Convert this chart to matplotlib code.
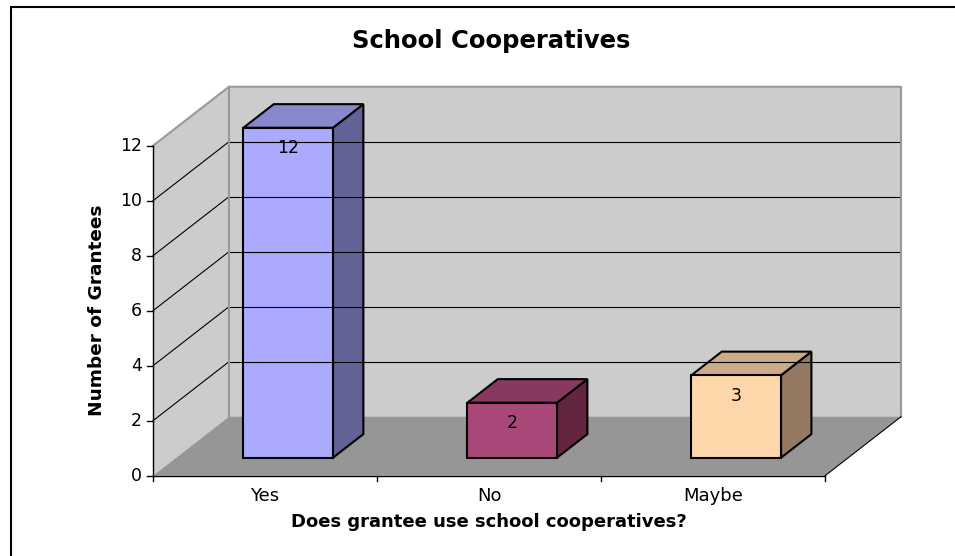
import matplotlib.pyplot as plt
from matplotlib.patches import Polygon, Rectangle

# Dados do gráfico
categorias = ["Yes", "No", "Maybe"]
valores = [12, 2, 3]
yticks = [0, 2, 4, 6, 8, 10, 12]
cores_frente = ["#AAAAFF", "#AA4779", "#FFD6AA"]
cores_topo = ["#8888CC", "#883960", "#CCAB88"]
cores_lado = ["#626296", "#63253F", "#937A60"]

ymax = 12
ncat = len(categorias)

# Deslocamento de profundidade (efeito 3D) em unidades de dados
DX, DY = 0.339, 2.145
d0 = 0.305      # onde começa a barra na profundidade
dd = 0.40       # profundidade da barra
largura = 0.40  # largura da face frontal

fig = plt.figure(figsize=(9.55, 5.56), dpi=100)
ax = fig.add_axes([0, 0, 1, 1])
ax.set_xlim(-0.683, 3.580)
ax.set_ylim(-2.92, 17.30)
ax.axis("off")

# Moldura do gráfico
fig.add_artist(Rectangle((11 / 955, -0.1), 2, 1.1 - 7 / 556, transform=fig.transFigure,
                         fill=False, edgecolor="black", lw=1.5))

# Paredes e piso
parede_fundo = Polygon([(DX, DY), (ncat + DX, DY), (ncat + DX, ymax + DY), (DX, ymax + DY)],
                       facecolor="#CCCCCC", edgecolor="none")
parede_lado = Polygon([(0, 0), (DX, DY), (DX, ymax + DY), (0, ymax)],
                      facecolor="#CCCCCC", edgecolor="none")
piso = Polygon([(0, 0), (ncat, 0), (ncat + DX, DY), (DX, DY)],
               facecolor="#969696", edgecolor="none")
for p in (parede_fundo, parede_lado, piso):
    ax.add_patch(p)

# Linhas de grade
for v in yticks[1:-1]:
    ax.plot([DX, ncat + DX], [v + DY, v + DY], color="black", lw=0.8)
    ax.plot([0, DX], [v, v + DY], color="black", lw=0.8)

# Bordas cinzas das paredes
cinza = "#999999"
ax.plot([0, DX, ncat + DX, ncat + DX], [ymax, ymax + DY, ymax + DY, DY], color=cinza, lw=1.5)
ax.plot([DX, DX], [DY, ymax + DY], color=cinza, lw=1.5)
ax.plot([ncat, ncat + DX], [0, DY], color="black", lw=0.8)

# Eixos
ax.plot([0, 0], [0, ymax], color="black", lw=1)
ax.plot([0, ncat], [0, 0], color="black", lw=1)
for v in yticks:
    ax.plot([-0.025, 0], [v, v], color="black", lw=1)
    ax.text(-0.05, v, str(v), ha="right", va="center", fontsize=12.5)
for i in range(ncat + 1):
    ax.plot([i, i], [0, -0.2], color="black", lw=1)
for i, c in enumerate(categorias):
    ax.text(i + 0.5, -0.72, c, ha="center", va="center", fontsize=13)

# Barras 3D
y0 = d0 * DY
for i, v in enumerate(valores):
    x0 = i + 0.5 - largura / 2 + d0 * DX
    ddx, ddy = dd * DX, dd * DY
    frente = Polygon([(x0, y0), (x0 + largura, y0), (x0 + largura, v + y0), (x0, v + y0)],
                     facecolor=cores_frente[i], edgecolor="black", lw=1.5, joinstyle="miter")
    topo = Polygon([(x0, v + y0), (x0 + largura, v + y0),
                    (x0 + largura + ddx, v + y0 + ddy), (x0 + ddx, v + y0 + ddy)],
                   facecolor=cores_topo[i], edgecolor="black", lw=1.5, joinstyle="miter")
    lado = Polygon([(x0 + largura, y0), (x0 + largura + ddx, y0 + ddy),
                    (x0 + largura + ddx, v + y0 + ddy), (x0 + largura, v + y0)],
                   facecolor=cores_lado[i], edgecolor="black", lw=1.5, joinstyle="miter")
    for p in (lado, topo, frente):
        ax.add_patch(p)
    ax.text(x0 + largura / 2, v + y0 - 0.75, str(v), ha="center", va="center", fontsize=12.5)

# Títulos
ax.text(1.51, 15.82, "School Cooperatives", ha="center", va="center",
        fontsize=17.5, fontweight="bold")
ax.text(1.5, -1.7, "Does grantee use school cooperatives?", ha="center", va="center",
        fontsize=13, fontweight="bold")
ax.text(-0.25, 6, "Number of Grantees", ha="center", va="center", rotation=90,
        fontsize=13.3, fontweight="bold")

fig.savefig("out.png", dpi=100)
